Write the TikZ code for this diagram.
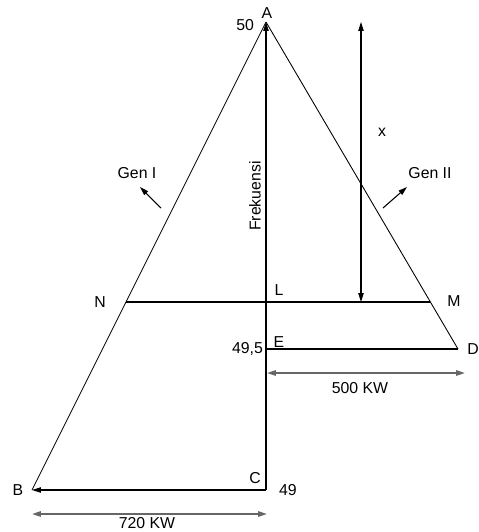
\documentclass[tikz,border=0pt]{standalone}
\usepackage{fontspec}
\setmainfont{Liberation Sans}
\usetikzlibrary{arrows.meta}

\begin{document}
\begin{tikzpicture}[
  x=0.02cm, y=-0.02cm,
  lbl/.style={font=\fontsize{9}{11}\selectfont, inner sep=1pt},
  edge/.style={line width=0.5pt},
  axis/.style={line width=0.7pt},
  arr/.style={-{Triangle[length=5pt, width=3pt]}, line width=0.6pt},
  darr/.style={{Triangle[length=5pt, width=3pt]}-{Triangle[length=5pt, width=3pt]}, line width=0.6pt},
  garr/.style={{Triangle[length=5pt, width=3pt]}-{Triangle[length=5pt, width=3pt]},
               draw=black!60, line width=0.9pt},
]
\useasboundingbox (0,0) rectangle (478,532);

%% ════════════════════════════════════════════════
%% POINTS
%% ════════════════════════════════════════════════
\coordinate (A) at (266,22);
\coordinate (B) at (32,490);
\coordinate (C) at (266,490);
\coordinate (D) at (458,349);
\coordinate (E) at (266,349);
\coordinate (L) at (266,302);
\coordinate (N) at (126,302);
\coordinate (M) at (430,302);

%% x span
\coordinate (xtop) at (361,22);
\coordinate (xbot) at (361,302);

%% power spans
\coordinate (pwE) at (267,373);
\coordinate (pwD) at (465,373);
\coordinate (pwB) at (32,514);
\coordinate (pwC) at (267,514);

%% generator arrows
\coordinate (g1from) at (161,208);
\coordinate (g1to)   at (140,187);
\coordinate (g2from) at (383,208);
\coordinate (g2to)   at (407,187);

%% ════════════════════════════════════════════════
%% LABELS
%% ════════════════════════════════════════════════
\node[lbl] (labA)  at (267,13)  {A};
\node[lbl, anchor=east] (f50) at (256,25) {50};
\node[lbl] (labB)  at (18,490)  {B};
\node[lbl] (labC)  at (255,478) {C};
\node[lbl] (f49)   at (288,490) {49};
\node[lbl] (labN)  at (100,302) {N};
\node[lbl] (labL)  at (279,290) {L};
\node[lbl] (labM)  at (454,301) {M};
\node[lbl] (labE)  at (279,342) {E};
\node[lbl, anchor=east] (f495) at (265,349) {49,5};
\node[lbl] (labD)  at (473,349) {D};
\node[lbl] (labx)  at (382,132) {x};
\node[lbl] (gen1)  at (137,173) {Gen I};
\node[lbl] (gen2)  at (430,173) {Gen II};
\node[lbl, rotate=90] (frek) at (255,196) {Frekuensi};
\node[lbl] (kw500) at (360,388) {500 KW};
\node[lbl] (kw720) at (147,523) {720 KW};

%% ════════════════════════════════════════════════
%% CONNECTIONS
%% ════════════════════════════════════════════════

%% Triangle sides
\draw[edge] (A) -- (B);
\draw[edge] (A) -- (D);

%% Axes
\draw[arr] (C) -- (A);
\draw[arr] (C) -- (B);

%% Cuts
\draw[axis] (N) -- (M);
\draw[axis] (E) -- (D);

%% Spans
\draw[darr] (xtop) -- (xbot);
\draw[garr] (pwE) -- (pwD);
\draw[garr] (pwB) -- (pwC);

%% Generators
\draw[arr] (g1from) -- (g1to);
\draw[arr] (g2from) -- (g2to);

\end{tikzpicture}
\end{document}
